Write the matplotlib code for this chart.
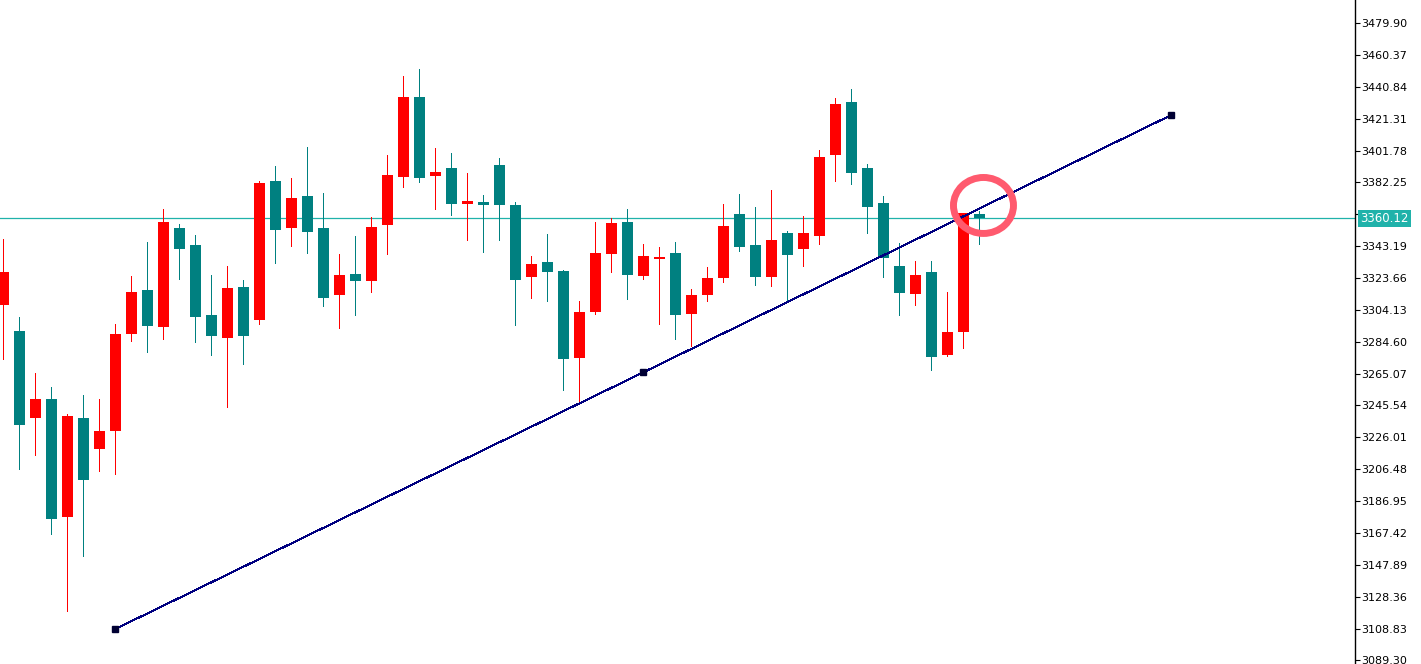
import matplotlib
matplotlib.use("Agg")
import matplotlib.pyplot as plt
import matplotlib.transforms as mtransforms
from matplotlib.patches import Ellipse

# ---- data ----
opens = [3307.3, 3291.2, 3238.1, 3249.5, 3177.4, 3237.9, 3219.1, 3230.1, 3289.5, 3316.3,
         3293.8, 3354.3, 3343.9, 3301.0, 3287.1, 3318.1, 3298.1, 3383.1, 3354.5, 3373.9,
         3354.3, 3313.4, 3326.1, 3322.0, 3356.3, 3385.7, 3434.6, 3386.3, 3391.1, 3369.2,
         3370.2, 3392.9, 3368.4, 3324.5, 3333.5, 3327.9, 3274.8, 3303.0, 3338.5, 3358.0,
         3325.1, 3335.5, 3339.0, 3301.8, 3313.4, 3323.8, 3362.9, 3343.9, 3324.5, 3351.2,
         3341.6, 3349.6, 3399.2, 3431.5, 3391.1, 3369.6, 3331.0, 3314.0, 3327.3, 3276.7,
         3290.7, 3363.1]
highs = [3347.6, 3299.8, 3265.4, 3256.9, 3240.3, 3252.0, 3249.5, 3295.5, 3324.9, 3345.7,
         3365.9, 3356.7, 3350.0, 3325.5, 3331.0, 3322.4, 3383.1, 3392.3, 3384.9, 3403.9,
         3375.7, 3338.4, 3349.4, 3361.0, 3399.0, 3447.4, 3451.7, 3403.3, 3400.2, 3388.0,
         3374.5, 3397.2, 3370.2, 3337.1, 3350.6, 3328.4, 3309.6, 3358.0, 3360.4, 3365.9,
         3344.5, 3342.6, 3345.7, 3316.9, 3330.4, 3369.0, 3375.1, 3367.2, 3377.6, 3352.5,
         3361.6, 3402.1, 3433.9, 3439.5, 3393.5, 3373.9, 3345.1, 3334.1, 3334.1, 3315.3,
         3363.7, 3364.9]
lows = [3274.2, 3206.8, 3215.4, 3167.0, 3119.8, 3153.5, 3205.6, 3203.7, 3285.2, 3278.5,
        3286.5, 3323.2, 3284.6, 3276.7, 3244.8, 3271.1, 3295.7, 3333.0, 3343.4, 3339.2,
        3306.7, 3293.2, 3301.2, 3315.3, 3338.5, 3379.6, 3382.7, 3366.1, 3362.4, 3347.1,
        3339.8, 3347.1, 3295.0, 3311.6, 3309.7, 3255.2, 3247.9, 3301.8, 3327.5, 3311.0,
        3323.2, 3295.7, 3286.5, 3282.2, 3309.7, 3321.4, 3340.4, 3319.5, 3318.9, 3309.7,
        3331.2, 3344.7, 3383.3, 3381.4, 3351.4, 3324.5, 3301.2, 3307.3, 3267.5, 3276.0,
        3280.9, 3344.7]
closes = [3327.3, 3233.8, 3249.5, 3176.2, 3239.1, 3200.1, 3229.9, 3289.3, 3315.1, 3294.4,
          3358.0, 3341.6, 3299.9, 3288.3, 3317.5, 3288.3, 3381.9, 3353.2, 3372.7, 3352.0,
          3311.6, 3325.5, 3322.0, 3354.9, 3386.8, 3434.6, 3385.1, 3388.6, 3369.2, 3370.8,
          3368.6, 3368.6, 3322.6, 3332.2, 3327.5, 3274.2, 3302.8, 3339.0, 3357.4, 3325.5,
          3337.1, 3336.5, 3301.2, 3313.2, 3323.7, 3355.5, 3342.8, 3324.5, 3346.9, 3337.9,
          3351.2, 3397.8, 3430.3, 3388.2, 3367.3, 3336.1, 3314.6, 3325.5, 3275.4, 3290.6,
          3363.7, 3360.12]

last_price = 3360.12
last_label = "3360.12"

trend_idx = [7, 40, 73]
trend_price = [3108.57, 3265.87, 3423.53]

tick_values = [3479.90, 3460.37, 3440.84, 3421.31, 3401.78, 3382.25, 3362.72, 3343.19,
               3323.66, 3304.13, 3284.60, 3265.07, 3245.54, 3226.01, 3206.48, 3186.95,
               3167.42, 3147.89, 3128.36, 3108.83, 3089.30]
tick_labels = ["3479.90", "3460.37", "3440.84", "3421.31", "3401.78", "3382.25", "3362.72",
               "3343.19", "3323.66", "3304.13", "3284.60", "3265.07", "3245.54", "3226.01",
               "3206.48", "3186.95", "3167.42", "3147.89", "3128.36", "3108.83", "3089.30"]

# ---- styling ----
UP = "#ff0000"
DOWN = "#008080"
BID = "#20b2aa"
TREND = "#000080"

W, H, DPI = 1421, 664, 100
fig = plt.figure(figsize=(W / DPI, H / DPI), dpi=DPI, facecolor="white")
ax = fig.add_axes([0, 0, 1355 / W, 1])
ax.set_facecolor("white")

xs = list(range(len(opens)))
colors = [UP if c >= o else DOWN for o, c in zip(opens, closes)]

ax.vlines(xs, lows, highs, colors=colors, linewidth=0.7, antialiased=False, zorder=2)
bottoms = [min(o, c) for o, c in zip(opens, closes)]
heights = [max(abs(c - o), 0.6) for o, c in zip(opens, closes)]
ax.bar(xs, heights, bottom=bottoms, width=0.69, color=colors, linewidth=0,
       antialiased=False, zorder=3)

# bid line
ax.axhline(last_price, color=BID, linewidth=0.9, zorder=1)

# trend line
ax.plot(trend_idx, trend_price, color=TREND, linewidth=0.7, antialiased=False, zorder=4)
ax.plot(trend_idx, trend_price, linestyle="none", marker="s", markersize=4.2,
        color="#000033", zorder=5)

# highlight ellipse
ax.add_patch(Ellipse((61.26, 3368.1), width=3.75, height=34.3, fill=False,
                     edgecolor="#ff5a6e", linewidth=5, zorder=6))

ax.set_xlim(-0.206, 84.48)
ax.set_ylim(3087.13, 3494.0)

for s in ["top", "left", "bottom"]:
    ax.spines[s].set_visible(False)
ax.spines["right"].set_color("black")
ax.spines["right"].set_linewidth(1.0)

ax.set_xticks([])
ax.yaxis.tick_right()
ax.set_yticks(tick_values)
ax.set_yticklabels(tick_labels)
ax.tick_params(axis="y", direction="out", length=3.5, width=0.8, pad=1.2,
               labelsize=8, colors="black")

# current price label
ax.text(1.0, last_price, last_label,
        transform=ax.get_yaxis_transform() + mtransforms.ScaledTranslation(5 / DPI, 0, fig.dpi_scale_trans),
        ha="left", va="center", fontsize=8.5, color="white", clip_on=False, zorder=10,
        bbox=dict(boxstyle="square,pad=0.2", fc=BID, ec="none"))

fig.savefig("out.png", dpi=DPI, facecolor="white")
